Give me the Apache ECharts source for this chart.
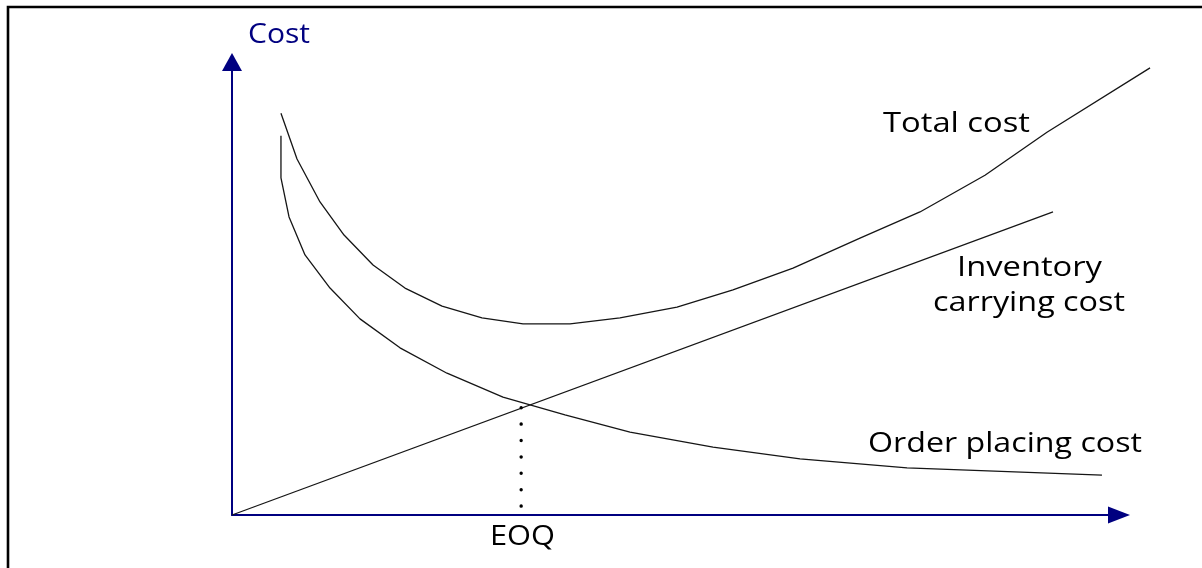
<!DOCTYPE html>
<html>
<head>
<meta charset="utf-8">
<script src="https://cdn.jsdelivr.net/npm/echarts@6/dist/echarts.min.js"></script>
<style>
  html, body { margin: 0; padding: 0; background: #fff; }
  #chart { width: 1202px; height: 568px; }
</style>
</head>
<body>
<div id="chart"></div>
<script>
// EOQ model: order quantity (x) against annual cost (y), both in relative units 0–100.

// Order placing cost falls as order quantity grows
const orderQty  = [5.52, 5.52, 6.43, 8.23, 11.05, 14.43, 18.94, 24.24, 30.55, 37.54, 44.87, 54.23, 64.04, 76.10, 98.08];
const orderCost = [83.7, 74.4, 65.8, 57.4, 50.1, 43.3, 36.9, 31.3, 26.0, 22.1, 18.3, 15.0, 12.4, 10.4, 8.8];

// Inventory carrying cost rises linearly with order quantity
const carryQty  = [0, 92.56];
const carryCost = [0, 66.9];

// Total cost = ordering + carrying
const totalQty  = [5.52, 7.33, 9.92, 12.63, 15.90, 19.50, 23.68, 28.18, 32.81, 38.11, 43.74, 50.17, 56.48, 63.25, 70.80, 77.56, 84.89, 91.88, 103.5];
const totalCost = [88.7, 78.6, 69.1, 61.8, 55.2, 50.1, 46.1, 43.5, 42.2, 42.2, 43.5, 45.9, 49.7, 54.5, 61.1, 66.9, 75.0, 84.5, 98.7];

// Economic order quantity, where the two cost lines cross
const eoqQty = 32.6;
const eoqCost = 23.7;

const axisTitle = 'Cost';
const eoqLabel = 'EOQ';
const curveLabels = ['Total cost', 'Inventory', 'carrying cost', 'Order placing cost'];

const pairs = (xs, ys) => xs.map((x, i) => [x, ys[i]]);

const FONT_SIZE = 27;
const FONT = FONT_SIZE + 'px "Open Sans"';
const measureCtx = document.createElement('canvas').getContext('2d');
measureCtx.font = FONT;
function label(text, left, midY, width, color) {
  const w = measureCtx.measureText(text).width || width;
  return {
    type: 'text', x: left, y: midY, scaleX: width / w, silent: true, z: 10,
    style: { text: text, font: FONT, fill: color, align: 'left', verticalAlign: 'middle' }
  };
}

const curveLine = { color: '#151515', width: 1.3 };
const axisColor = '#000080';
const hiddenAxis = {
  axisLine: { show: false }, axisTick: { show: false }, axisLabel: { show: false }, splitLine: { show: false }
};

// Plot area: 0–100 on x spans 232→1119 px; the data grid runs a little further right
// so the total-cost curve can continue past the arrow head.
const X_SPAN = 104;
const PX_PER_X = 887 / 100;

const chart = echarts.init(document.getElementById('chart'), null, { renderer: 'canvas' });
chart.setOption({
  animation: false,
  backgroundColor: '#fff',
  grid: [
    { left: 232, right: 1202 - 232 - X_SPAN * PX_PER_X, top: 62, bottom: 53, containLabel: false },
    { left: 232, right: 83, top: 62, bottom: 53, containLabel: false }
  ],
  xAxis: [
    Object.assign({ type: 'value', gridIndex: 0, min: 0, max: X_SPAN }, hiddenAxis),
    {
      type: 'value', gridIndex: 1, min: 0, max: 100,
      axisLine: { show: true, onZero: true, lineStyle: { color: axisColor, width: 2 },
        symbol: ['none', 'triangle'], symbolSize: [17, 22] },
      axisTick: { show: false }, axisLabel: { show: false }, splitLine: { show: false }
    }
  ],
  yAxis: [
    {
      type: 'value', gridIndex: 0, min: 0, max: 100,
      axisLine: { show: true, lineStyle: { color: axisColor, width: 2 },
        symbol: ['none', 'triangle'], symbolSize: [20, 18] },
      axisTick: { show: false }, axisLabel: { show: false }, splitLine: { show: false }
    },
    Object.assign({ type: 'value', gridIndex: 1, min: 0, max: 100 }, hiddenAxis)
  ],
  series: [
    { name: 'Order placing cost', type: 'line', data: pairs(orderQty, orderCost),
      symbol: 'none', clip: false, silent: true, lineStyle: curveLine },
    { name: 'Inventory carrying cost', type: 'line', data: pairs(carryQty, carryCost),
      symbol: 'none', clip: false, silent: true, lineStyle: curveLine },
    { name: 'Total cost', type: 'line', data: pairs(totalQty, totalCost),
      symbol: 'none', clip: false, silent: true, lineStyle: curveLine },
    { name: 'EOQ', type: 'line', data: [[eoqQty, eoqCost], [eoqQty, 0]],
      symbol: 'none', clip: false, silent: true,
      lineStyle: { color: '#000', width: 3.4, type: [0.1, 16.3], cap: 'round' } }
  ],
  graphic: [
    { type: 'rect', silent: true, z: 0,
      shape: { x: 8, y: 7, width: 1300, height: 700 },
      style: { fill: 'none', stroke: '#000', lineWidth: 2.6 } },
    label(axisTitle, 248, 35.5, 62, axisColor),
    label(curveLabels[0], 883, 124.5, 147, '#000'),
    label(curveLabels[1], 957, 268.5, 145, '#000'),
    label(curveLabels[2], 933, 303, 192, '#000'),
    label(curveLabels[3], 868, 444.5, 274, '#000'),
    label(eoqLabel, 490, 537.5, 65, '#000')
  ]
});
</script>
</body>
</html>
